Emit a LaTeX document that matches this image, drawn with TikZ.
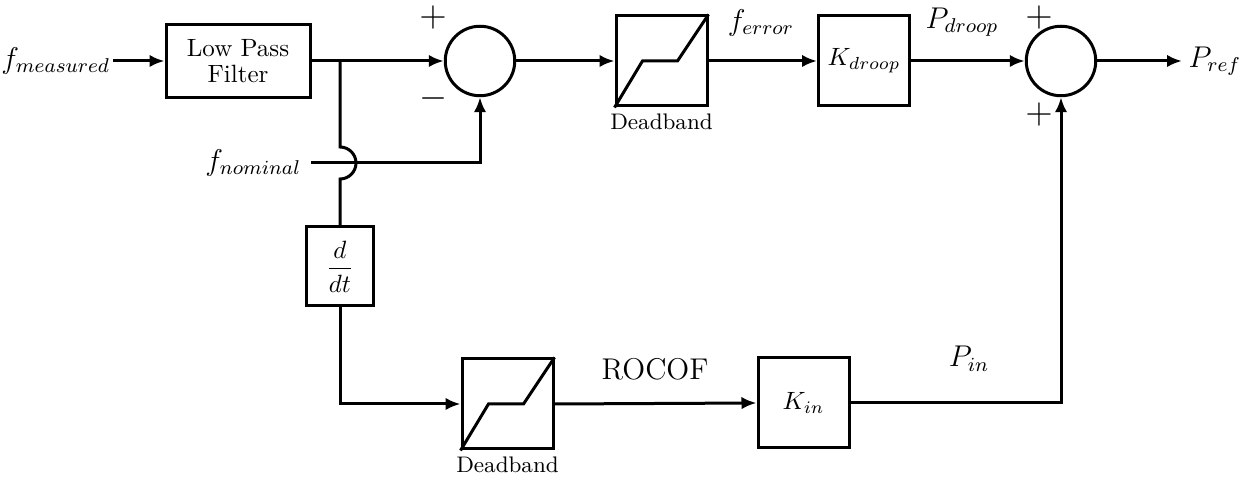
\documentclass[tikz,border=0pt]{standalone}
\usetikzlibrary{arrows.meta,positioning}
\begin{document}
\begin{tikzpicture}[
  x=0.4pt, y=-0.4pt, line width=1.2pt,
  block/.style={rectangle, draw, line width=1.2pt, minimum width=36.4pt, minimum height=36pt, inner sep=2pt},
  sumnode/.style={circle, draw, line width=1.2pt, minimum size=27.8pt, inner sep=0pt},
  sig/.style={-{Latex[length=6pt,width=5pt]}},
  sgn/.style={font=\Large, inner sep=0pt},
  ]
 \useasboundingbox (0,0) rectangle (1254,477);

 % upper path
 \node [anchor=east, inner xsep=0.5pt] (fmeas) at (113,61) {\large $f_{measured}$};
 \node [block, minimum width=57.6pt, minimum height=29.2pt, align=center] (lpf) at (238,61) {Low Pass\\[-1.6pt]Filter};
 \node [sumnode] (sum1) at (480,61) {};
 \node [block] (db1) at (661.5,61) {};
 \node [block] (kdroop) at (864,61) {$K_{droop}$};
 \node [sumnode] (sum2) at (1061,61) {};
 \node [anchor=west, inner sep=2pt] (pref) at (1182,61) {\large $P_{ref}$};

 % lower path
 \node [anchor=east] (fnom) at (311,163) {\large $f_{nominal}$};
 \node [block, minimum width=26.8pt, minimum height=31.6pt] (ddt) at (340,266.5) {$\displaystyle\frac{d}{dt}$};
 \node [block] (db2) at (507.5,404) {};
 \node [block] (kin) at (803.5,403) {$K_{in}$};

 \node [font=\small, inner sep=1pt] (db1txt) [below=1pt of db1] {Deadband};
 \node [font=\small, inner sep=1pt] (db2txt) [below=1pt of db2] {Deadband};

 % signal names and signs
 \node (ferr) at (761,23) {\large $f_{error}$};
 \node (pdroop) at (962,22) {\large $P_{droop}$};
 \node (rocof) at (655,369) {\large ROCOF};
 \node (pin) at (969,359) {\large $P_{in}$};
 \node [sgn] (s1p) at (433,18) {$+$};
 \node [sgn] (s1m) at (433,99) {$-$};
 \node [sgn] (s2p) at (1039,18) {$+$};
 \node [sgn] (s2q) at (1039,115) {$+$};

 % deadband curves
 \draw (db1.south west) -- ([xshift=11.2pt]db1.west) -- ([xshift=-12.4pt]db1.east) -- (db1.north east);
 \draw (db2.south west) -- ([xshift=11.2pt]db2.west) -- ([xshift=-12.4pt]db2.east) -- (db2.north east);

 \draw [sig] (fmeas.east) -- (lpf.west);
 \draw [sig] (lpf.east) -- (sum1.west);
 \draw [sig] (sum1.east) -- (db1.west);
 \draw [sig] (db1.east) -- (kdroop.west);
 \draw [sig] (kdroop.east) -- (sum2.west);
 \draw [sig] (sum2.east) -- (pref.west);
 \draw [sig] (fnom.east) -| (sum1.south);

 \coordinate (br) at (340,61);
 \draw (br) -- (340,147) arc[start angle=90, end angle=-90, radius=6.4pt] -- (ddt.north);
 \draw [sig] (ddt.south) |- (db2.west);
 \draw [sig] (db2.east) -- (kin.west);
 \draw [sig] (kin.east) -| (sum2.south);
\end{tikzpicture}
\end{document}
